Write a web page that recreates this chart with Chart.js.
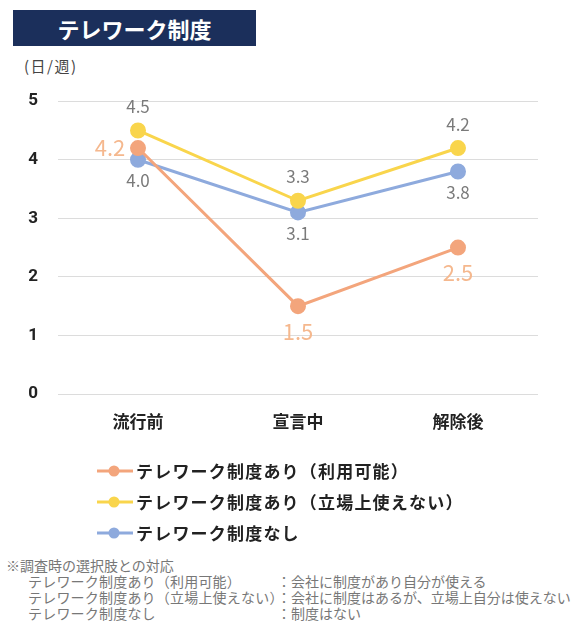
<!DOCTYPE html>
<html lang="ja">
<head>
<meta charset="utf-8">
<script src="https://cdn.jsdelivr.net/npm/chart.js@4.4.1/dist/chart.umd.min.js"></script>
<style>
  html, body { margin: 0; padding: 0; background: #fff; }
  body { width: 576px; height: 626px; position: relative; overflow: hidden;
         font-family: "Noto Sans CJK JP", "Noto Sans", sans-serif; }
  .title { position: absolute; left: 13px; top: 10px; width: 243px; height: 36px;
           background: #1b2f5b; color: #fff; font-weight: bold; font-size: 22px;
           line-height: 36px; text-align: center; }
  .unit { position: absolute; left: 24px; top: 55px; font-size: 15px; color: #444; letter-spacing: 1.5px; }
  .chartbox { position: absolute; left: 0; top: 71px; width: 576px; height: 367px; }
  .legend { position: absolute; left: 97px; top: 455px; }
  .legend div { height: 31px; line-height: 28px; font-size: 17px; font-weight: bold; color: #222;
                letter-spacing: 1.2px; display: flex; align-items: center; }
  .legend canvas { margin-right: 3px; }
  .note { position: absolute; left: 6px; top: 557px; font-size: 14px; color: #777; line-height: 16px; }
  .note .row { position: relative; height: 16px; white-space: nowrap; }
  .note .a { position: absolute; left: 22px; white-space: nowrap; letter-spacing: 0.2px; }
  .note .b { position: absolute; left: 271px; white-space: nowrap; }
</style>
</head>
<body>
<div class="title">テレワーク制度</div>
<div class="unit">(日/週)</div>
<div class="chartbox"><canvas id="c"></canvas></div>
<div class="legend" id="legend"></div>
<div class="note" id="note"></div>

<script>
// カテゴリ
const periods = ['流行前', '宣言中', '解除後'];

// 系列名
const seriesNames = [
  'テレワーク制度あり（利用可能）',
  'テレワーク制度あり（立場上使えない）',
  'テレワーク制度なし'
];

// 系列値（日/週）
const availableValues = [4.2, 1.5, 2.5];
const cannotUseValues = [4.5, 3.3, 4.2];
const noSystemValues = [4.0, 3.1, 3.8];

// 注記
const noteTitle = '※調査時の選択肢との対応';
const noteChoices = ['：会社に制度があり自分が使える', '：会社に制度はあるが、立場上自分は使えない', '：制度はない'];

const colors = ['#f3a57c', '#f9d54c', '#8eaadd'];

// データラベル
const dataLabels = {
  id: 'dataLabels',
  afterDatasetsDraw(chart) {
    const ctx = chart.ctx;
    chart.data.datasets.forEach((ds, i) => {
      const meta = chart.getDatasetMeta(i);
      const lb = ds.labelStyle;
      ctx.save();
      ctx.font = lb.font;
      ctx.fillStyle = lb.color;
      ctx.textAlign = 'center';
      ctx.textBaseline = 'middle';
      meta.data.forEach((pt, j) => {
        const pos = (lb.pos[j] || lb.pos[0]);
        let x = pt.x, y = pt.y;
        if (pos === 'left') x -= 28;
        if (pos === 'above') y -= 24;
        if (pos === 'below') y += lb.below;
        ctx.fillText(ds.data[j].toFixed(1), x, y);
      });
      ctx.restore();
    });
  }
};

const valueSets = [availableValues, cannotUseValues, noSystemValues];
const labelStyles = [
  { font: '22px "Noto Sans CJK JP", sans-serif', color: '#f5b88e', pos: ['left', 'below', 'below'], below: 25 },
  { font: '17px "Noto Sans CJK JP", sans-serif', color: '#7a7a7a', pos: ['above'] },
  { font: '17px "Noto Sans CJK JP", sans-serif', color: '#7a7a7a', pos: ['below'], below: 21 }
];

const ctx = document.getElementById('c').getContext('2d');
const chart = new Chart(ctx, {
  type: 'line',
  data: {
    labels: periods,
    datasets: valueSets.map((vals, i) => ({
      label: seriesNames[i],
      data: vals,
      borderColor: colors[i],
      backgroundColor: colors[i],
      borderWidth: 3,
      pointRadius: 6.5,
      pointHoverRadius: 6.5,
      labelStyle: labelStyles[i]
    }))
  },
  options: {
    responsive: true,
    maintainAspectRatio: false,
    animation: false,
    layout: { padding: { top: 14, right: 38, bottom: 0, left: 0 } },
    plugins: { legend: { display: false }, tooltip: { enabled: false } },
    scales: {
      x: {
        offset: true,
        grid: { display: false },
        border: { display: false },
        ticks: { color: '#222', font: { size: 17, weight: 'bold', family: '"Noto Sans CJK JP"' }, padding: 9 },
        afterFit(s) { s.height = 44; }
      },
      y: {
        min: 0, max: 5,
        ticks: { stepSize: 1, color: '#222', font: { size: 17, weight: 'bold', family: 'Roboto' }, padding: 20 },
        grid: { color: '#dcdcdc', lineWidth: 1, drawTicks: false },
        border: { display: false },
        afterFit(s) { s.width = 58; }
      }
    }
  },
  plugins: [dataLabels]
});

// 凡例
const legend = document.getElementById('legend');
seriesNames.forEach((name, i) => {
  const row = document.createElement('div');
  const ic = document.createElement('canvas');
  ic.width = 36; ic.height = 16;
  const g = ic.getContext('2d');
  g.strokeStyle = colors[i]; g.lineWidth = 3;
  g.beginPath(); g.moveTo(0, 8); g.lineTo(36, 8); g.stroke();
  g.fillStyle = colors[i];
  g.beginPath(); g.arc(17, 8, 5.5, 0, Math.PI * 2); g.fill();
  row.appendChild(ic);
  row.appendChild(document.createTextNode(name));
  legend.appendChild(row);
});

// 注記
const note = document.getElementById('note');
const t = document.createElement('div');
t.className = 'row'; t.textContent = noteTitle;
note.appendChild(t);
seriesNames.forEach((name, i) => {
  const r = document.createElement('div');
  r.className = 'row';
  r.innerHTML = '<span class="a"></span><span class="b"></span>';
  r.children[0].textContent = name;
  r.children[1].textContent = noteChoices[i];
  note.appendChild(r);
});
</script>
</body>
</html>
